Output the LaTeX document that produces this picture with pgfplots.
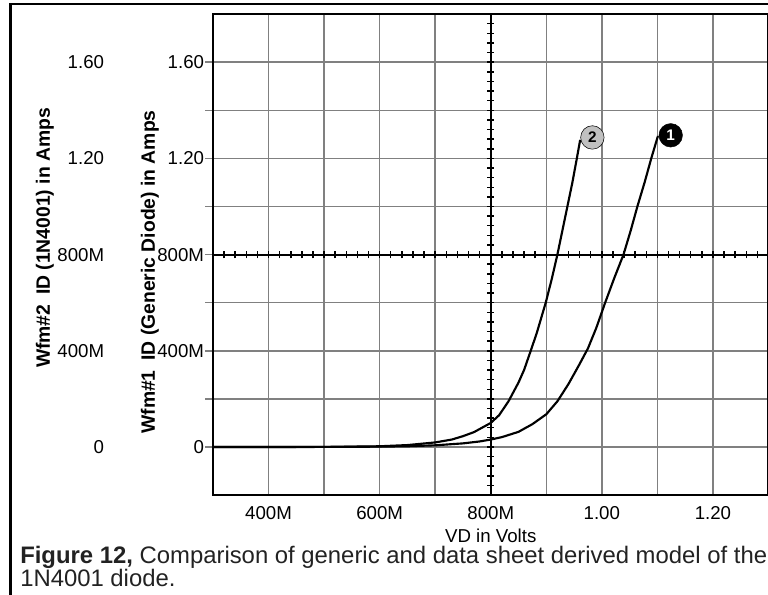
\documentclass[border=0pt]{standalone}
\usepackage{pgfplots}
\pgfplotsset{compat=1.18}
\usepackage{fontspec}
\setmainfont{Liberation Sans}
\definecolor{gridgray}{HTML}{808080}
\definecolor{markgray}{HTML}{C0C0C0}
\definecolor{captext}{HTML}{222222}
\newcommand{\yl}[1]{\makebox[0pt][r]{#1\hspace{75pt}}\makebox[0pt][r]{#1}}

\pgfplotstableread{
v i
0.30 0
0.40 0
0.50 0.0003
0.60 0.0015
0.65 0.003
0.70 0.007
0.75 0.015
0.78 0.023
0.80 0.031
0.82 0.041
0.85 0.063
0.875 0.095
0.90 0.136
0.92 0.190
0.94 0.262
0.96 0.345
0.975 0.410
0.99 0.495
1.006 0.600
1.022 0.700
1.039 0.800
1.052 0.900
1.064 1.000
1.077 1.100
1.089 1.200
1.101 1.293
}\generic

\pgfplotstableread{
v i
0.30 0
0.40 0
0.50 0.0005
0.55 0.0015
0.60 0.003
0.65 0.008
0.70 0.019
0.73 0.031
0.75 0.045
0.77 0.062
0.80 0.100
0.815 0.132
0.832 0.190
0.85 0.268
0.86 0.320
0.872 0.400
0.883 0.475
0.899 0.600
0.910 0.700
0.920 0.800
0.929 0.900
0.938 1.000
0.947 1.100
0.955 1.200
0.961 1.277
}\datasheet

\begin{document}
\begin{tikzpicture}[x=0.75pt,y=0.75pt]
\useasboundingbox (0,0) rectangle (768,595);
\clip (0,0) rectangle (768,595);
\draw[line width=1.6pt] (10.5,-5) -- (10.5,591) -- (780,591);

\begin{axis}[
  at={(159.75pt,74.925pt)}, anchor=south west,
  scale only axis, width=416.6pt, height=360.75pt,
  xmin=0.3, xmax=1.3, ymin=-0.2, ymax=1.8,
  axis line style={line width=1.5pt, black},
  xtick={0.4,0.5,0.6,0.7,0.8,0.9,1.0,1.1,1.2},
  xticklabels={400M,,600M,,800M,,1.00,,1.20},
  ytick={0,0.2,0.4,0.6,0.8,1.0,1.2,1.4,1.6},
  yticklabels={\yl{0},,\yl{400M},,\yl{800M},,\yl{1.20},,\yl{1.60}},
  xtick pos=bottom, ytick pos=left,
  tick align=outside, major tick length=6pt,
  xtick style={draw=none},
  ytick style={color=gridgray, line width=1.1pt},
  grid=major, major grid style={color=gridgray, line width=1.1pt},
  tick label style={font=\fontsize{14}{16}\selectfont, text=black},
  yticklabel style={inner sep=0pt},
  xticklabel style={anchor=north, inner sep=0pt, yshift=-2pt},
  xlabel={VD in Volts},
  xlabel style={font=\fontsize{14}{16}\selectfont, at={(axis description cs:0.5,0)}, anchor=center, yshift=-30.5pt},
  clip=true,
]
\addplot[black, line width=1.6pt] table[x=v,y=i] {\generic};
\addplot[black, line width=1.6pt] table[x=v,y=i] {\datasheet};
\addplot[only marks, mark=*, mark size=8.8pt, mark options={fill=markgray, draw=none},
  nodes near coords={\textbf{2}}, nodes near coords align={center},
  every node near coord/.append style={font=\fontsize{11.5}{12}\selectfont, text=black}]
  coordinates {(0.983,1.287)};
\addplot[only marks, mark=*, mark size=8.8pt, mark options={fill=black, draw=none},
  nodes near coords={\textbf{1}}, nodes near coords align={center},
  every node near coord/.append style={font=\fontsize{11.5}{12}\selectfont, text=white}]
  coordinates {(1.124,1.296)};
\end{axis}

\begin{axis}[
  at={(159.75pt,74.925pt)}, anchor=south west,
  scale only axis, width=416.6pt, height=360.75pt,
  xmin=-0.5, xmax=0.5, ymin=-1, ymax=1,
  axis lines=middle,
  axis line style={-, line width=1.5pt, black},
  xtick distance=0.02, ytick distance=0.04,
  xticklabels={}, yticklabels={},
  tick align=center, major tick length=5.5pt,
  tick style={black, line width=1.1pt},
]
\end{axis}

\node[rotate=90, font=\bfseries\fontsize{14.5}{16}\selectfont] at (45,357) {Wfm\#2\enspace ID (1N4001) in Amps};
\node[rotate=90, font=\bfseries\fontsize{14.5}{16}\selectfont] at (150,323) {Wfm\#1\enspace ID (Generic Diode) in Amps};

\node[anchor=base west, inner sep=0pt, text=captext, font=\fontsize{17.9}{20}\selectfont] at (20,31.5) {\textbf{Figure 12,} Comparison of generic and data sheet derived model of the};
\node[anchor=base west, inner sep=0pt, text=captext, font=\fontsize{17.9}{20}\selectfont] at (20,8) {1N4001 diode.};
\end{tikzpicture}
\end{document}
